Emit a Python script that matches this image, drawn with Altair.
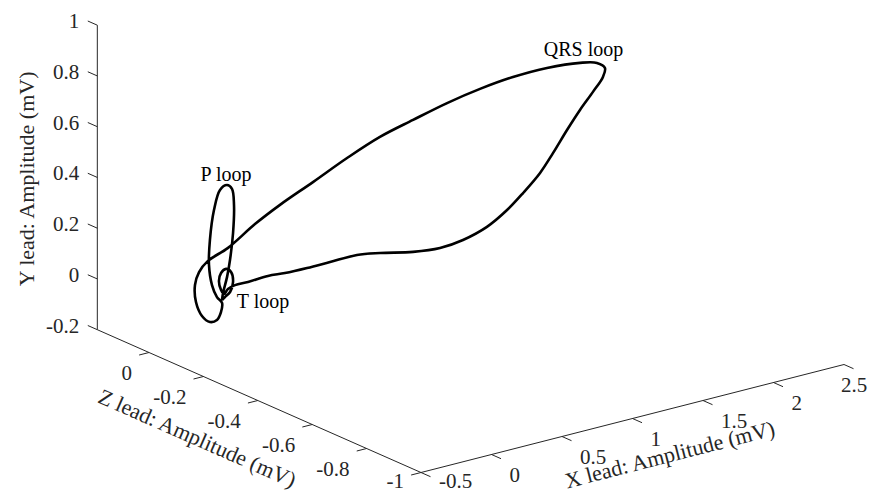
import altair as alt
import pandas as pd

# ---------------- data: vectorcardiogram loop (mV) ----------------
X_LEAD = [0.018, 0.025, 0.073, 0.113, 0.154, 0.180, 0.185, 0.150, 0.100, 0.038,
          -0.010, -0.036, -0.034, -0.018, 0.018, 0.049, 0.059, 0.048, 0.030, 0.026,
          0.019, 0.048, 0.111, 0.215, 0.348, 0.429, 0.605, 0.789, 0.945, 1.122,
          1.286, 1.462, 1.599, 1.744, 1.882, 1.944, 1.962, 1.948, 1.877, 1.785,
          1.693, 1.632, 1.579, 1.497, 1.422, 1.318, 1.206, 1.101, 0.987, 0.830,
          0.724, 0.591, 0.486, 0.387, 0.305, 0.183, 0.110, 0.060, 0.032, 0.011,
          -0.004, 0.011, 0.046, 0.082, 0.096, 0.075, 0.039, 0.018]
Y_LEAD = [-0.067, -0.040, 0.012, 0.068, 0.164, 0.266, 0.324, 0.344, 0.332, 0.266,
          0.160, 0.070, -0.005, -0.050, -0.078, -0.128, -0.170, -0.186, -0.169, -0.123,
          -0.055, -0.008, 0.027, 0.073, 0.162, 0.250, 0.329, 0.412, 0.492, 0.548,
          0.610, 0.655, 0.706, 0.745, 0.769, 0.774, 0.761, 0.728, 0.679, 0.621,
          0.555, 0.463, 0.383, 0.306, 0.240, 0.179, 0.129, 0.098, 0.080, 0.079,
          0.072, 0.049, 0.026, 0.006, -0.003, -0.014, -0.021, -0.029, -0.045, -0.026,
          0.011, 0.041, 0.052, 0.035, -0.007, -0.043, -0.058, -0.067]
Z_LEAD = [0, 0, 0.01, 0.02, 0.03, 0.04, 0.05, 0.05, 0.05, 0.04,
          0.03, 0.02, 0.01, 0, 0, 0.02, 0.04, 0.06, 0.08, 0.1,
          0.1, 0.1, 0.1, 0.08, 0.05, 0, -0.03, -0.06, -0.1, -0.13,
          -0.17, -0.2, -0.25, -0.3, -0.35, -0.38, -0.4, -0.4, -0.4, -0.4,
          -0.4, -0.38, -0.36, -0.34, -0.32, -0.3, -0.27, -0.24, -0.2, -0.16,
          -0.13, -0.1, -0.07, -0.04, -0.02, -0.01, 0, 0, 0, 0,
          0, 0, 0, 0, 0, 0, 0, 0]

# axis limits and ticks
X_LIM = [-0.5, 2.5]
Y_LIM = [-0.2, 1.0]
Z_LIM = [-1.0, 0.19]
X_TICKS = [-0.5, 0, 0.5, 1, 1.5, 2, 2.5]
Y_TICKS = [-0.2, 0, 0.2, 0.4, 0.6, 0.8, 1]
Z_TICKS = [-1, -0.8, -0.6, -0.4, -0.2, 0]

# annotations (lead coordinates)
ANN_TEXT = ["QRS loop", "P loop", "T loop"]
ANN_X = [1.81, 0.143, 0.309]
ANN_Y = [0.853, 0.385, -0.116]
ANN_Z = [-0.4, 0.05, 0.0]

# axis titles (lead coordinates of their centres)
TITLES = ["X lead: Amplitude (mV)", "Y lead: Amplitude (mV)", "Z lead: Amplitude (mV)"]
TITLE_X = [0.797, -0.5, -1.160]
TITLE_Y = [-0.2, 0.272, -0.2]
TITLE_Z = [-1.243, 0.4485, -0.519]
TITLE_ANGLE = [345.7, 270, 23.8]

# ---------------- 3-D view (azimuth/elevation projection) ----------------
W, H = 873, 485
OFF = 8
ORIGIN = (421.0, 472.5)       # page position of (X_LIM[0], Y_LIM[0], Z_LIM[0])
EX = (141.0, -36.0)           # per mV along X lead
EY = (0.0, -253.75)           # per mV along Y lead
EZ = (-272.0, -120.0)         # per mV along Z lead
FS_TICK = 21
FS_TITLE = 22


def proj(x, y, z):
    dx, dy, dz = x - X_LIM[0], y - Y_LIM[0], z - Z_LIM[0]
    return (ORIGIN[0] + dx * EX[0] + dy * EY[0] + dz * EZ[0],
            ORIGIN[1] + dx * EX[1] + dy * EY[1] + dz * EZ[1])


def fmt(v):
    return f"{v:g}"


# keep tick labels inside the drawable page area
YMAX_LAB = OFF + H - FS_TICK / 2 - 1
XMAX_RIGHT = OFF + W - 1

# loop
loop_rows = []
for i, (x, y, z) in enumerate(zip(X_LEAD, Y_LEAD, Z_LEAD)):
    sx, sy = proj(x, y, z)
    loop_rows.append({"i": i, "sx": sx, "sy": sy})
loop_df = pd.DataFrame(loop_rows)

# axis lines & ticks
seg = []
x0, x1 = X_LIM
y0, y1 = Y_LIM
z0, z1 = Z_LIM
for a, b in [((x0, y0, z0), (x1, y0, z0)),
             ((x0, y0, z0), (x0, y0, z1)),
             ((x0, y0, z1), (x0, y1, z1))]:
    p, q = proj(*a), proj(*b)
    seg.append({"sx": p[0], "sy": p[1], "sx2": q[0], "sy2": q[1]})
TL_Z = 0.035
TL_X = 0.07
xt, yt, zt = [], [], []
for v in X_TICKS:
    p, q = proj(v, y0, z0), proj(v, y0, z0 - TL_Z)
    seg.append({"sx": p[0], "sy": p[1], "sx2": q[0], "sy2": q[1]})
    t = fmt(v)
    lx = min(p[0] + 18, XMAX_RIGHT - 0.62 * FS_TICK * len(t))
    xt.append({"sx": lx, "sy": min(p[1] + 21, YMAX_LAB), "t": t})
for v in Y_TICKS:
    p, q = proj(x0, v, z1), proj(x0, v, z1 + TL_Z)
    seg.append({"sx": p[0], "sy": p[1], "sx2": q[0], "sy2": q[1]})
    yt.append({"sx": p[0] - 18, "sy": p[1] - 3, "t": fmt(v)})
for v in Z_TICKS:
    p, q = proj(x0, y0, v), proj(x0 - TL_X, y0, v)
    seg.append({"sx": p[0], "sy": p[1], "sx2": q[0], "sy2": q[1]})
    zt.append({"sx": p[0] - 17, "sy": min(p[1] + 21, YMAX_LAB), "t": fmt(v)})
seg_df = pd.DataFrame(seg)
xt_df, yt_df, zt_df = pd.DataFrame(xt), pd.DataFrame(yt), pd.DataFrame(zt)

ann_df = pd.DataFrame([{"sx": proj(x, y, z)[0], "sy": proj(x, y, z)[1], "t": t}
                       for t, x, y, z in zip(ANN_TEXT, ANN_X, ANN_Y, ANN_Z)])
title_df = pd.DataFrame([{"sx": proj(x, y, z)[0], "sy": proj(x, y, z)[1], "t": t, "a": a}
                         for t, x, y, z, a in zip(TITLES, TITLE_X, TITLE_Y, TITLE_Z, TITLE_ANGLE)])

XS = alt.Scale(domain=[OFF, OFF + W], range=[0, W], nice=False, zero=False)
YS = alt.Scale(domain=[OFF, OFF + H], range=[0, H], nice=False, zero=False)
FONT = "Liberation Serif"
AXC = "#262626"


def ex(field="sx"):
    return alt.X(f"{field}:Q", scale=XS, axis=None)


def ey(field="sy"):
    return alt.Y(f"{field}:Q", scale=YS, axis=None)


axes = alt.Chart(seg_df).mark_rule(color=AXC, strokeWidth=1).encode(
    x=ex(), y=ey(), x2="sx2:Q", y2="sy2:Q")

xlab = alt.Chart(xt_df).mark_text(align="left", baseline="middle",
                                  font=FONT, fontSize=FS_TICK, color=AXC).encode(
    x=ex(), y=ey(), text="t:N")
ylab = alt.Chart(yt_df).mark_text(align="right", baseline="middle",
                                  font=FONT, fontSize=FS_TICK, color=AXC).encode(
    x=ex(), y=ey(), text="t:N")
zlab = alt.Chart(zt_df).mark_text(align="right", baseline="middle",
                                  font=FONT, fontSize=FS_TICK, color=AXC).encode(
    x=ex(), y=ey(), text="t:N")

titles = alt.Chart(title_df).mark_text(align="center", baseline="middle",
                                       font=FONT, fontSize=FS_TITLE, color=AXC).encode(
    x=ex(), y=ey(), text="t:N", angle=alt.Angle("a:Q", scale=None))

loop = alt.Chart(loop_df).mark_line(color="black", strokeWidth=2.6,
                                    interpolate="catmull-rom").encode(
    x=ex(), y=ey(), order="i:Q")

ann = alt.Chart(ann_df).mark_text(align="center", baseline="middle",
                                  font=FONT, fontSize=20, color="black").encode(
    x=ex(), y=ey(), text="t:N")

chart = alt.layer(axes, xlab, ylab, zlab, titles, loop, ann).properties(
    width=W, height=H, padding=0, autosize=alt.AutoSizeParams(type="none")
).configure_view(stroke=None)

chart.save("out.html", embed_options={"renderer": "svg", "actions": False})
